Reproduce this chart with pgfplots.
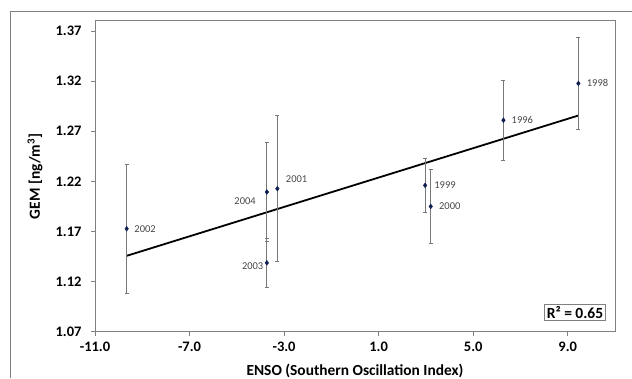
\documentclass[border=0pt]{standalone}
\usepackage{pgfplots}
\pgfplotsset{compat=1.18}
\usepackage{fontspec}
\setmainfont{Carlito}
\definecolor{framegray}{RGB}{128,128,128}
\definecolor{errgray}{RGB}{120,120,120}
\definecolor{navy}{RGB}{15,30,80}
\definecolor{labgray}{RGB}{70,70,70}
\begin{document}
\begin{tikzpicture}[x=1pt,y=1pt]
\useasboundingbox (0,0) rectangle (632,378);
\draw[framegray, line width=0.9pt] (10.5,0) -- (10.5,367) -- (632,367);
\begin{axis}[
  at={(95pt,46.3pt)}, anchor=south west,
  scale only axis, width=520pt, height=310.7pt,
  xmin=-11, xmax=11, ymin=1.07, ymax=1.38,
  xtick={-11,-7,-3,1,5,9},
  xticklabels={-11.0,-7.0,-3.0,1.0,5.0,9.0},
  ytick={1.07,1.12,1.17,1.22,1.27,1.32,1.37},
  yticklabels={1.07,1.12,1.17,1.22,1.27,1.32,1.37},
  tick align=outside, tick pos=left,
  major tick length=4pt,
  tick style={framegray, line width=0.8pt},
  axis line style={framegray, line width=1pt},
  ticklabel style={font=\fontsize{14.5}{16}\selectfont\bfseries},
  xticklabel style={yshift=-3pt},
  yticklabel style={xshift=-6pt},
  xlabel={ENSO (Southern Oscillation Index)},
  ylabel={GEM [ng/m\textsuperscript{3}]},
  label style={font=\fontsize{15.4}{17}\selectfont\bfseries},
  xlabel style={at={(axis description cs:0.5,-0.125)}, anchor=center},
  ylabel style={at={(axis description cs:-0.1154,0.5)}, anchor=center, rotate=0},
  clip=false,
]
\addplot[black, line width=1.8pt] coordinates {(-9.66,1.1457) (9.45,1.2857)};
\addplot[only marks, mark=diamond*, mark size=2.4pt, navy,
  error bars/.cd, y dir=both, y explicit,
  error bar style={errgray, line width=0.8pt},
  error mark options={errgray, line width=0.8pt, mark size=2pt, rotate=90}]
  table[x=x, y=y, y error=e] {
  x      y      e
  6.28   1.281  0.040
  9.45   1.3177 0.0457
  2.965  1.216  0.027
  3.205  1.195  0.037
  -3.285 1.2127 0.073
  -9.66  1.1727 0.0645
  -3.73  1.1387 0.0243
  -3.73  1.2094 0.0497
};
\begin{scope}[every node/.style={font=\fontsize{10.5}{12}\selectfont, text=labgray, inner sep=0pt}]
\node at (axis cs:-8.88,1.1727) {2002};
\node at (axis cs:-4.65,1.2007) {2004};
\node at (axis cs:-4.33,1.1357) {2003};
\node at (axis cs:-2.47,1.2227) {2001};
\node at (axis cs:3.81,1.216) {1999};
\node at (axis cs:4.01,1.195) {2000};
\node at (axis cs:7.08,1.281) {1996};
\node at (axis cs:10.26,1.3177) {1998};
\end{scope}
\node[draw=framegray, line width=1pt, fill=white, anchor=south east, inner sep=2pt,
  font=\fontsize{15.5}{17}\selectfont\bfseries]
  at ([xshift=-9.3pt, yshift=10.7pt]rel axis cs:1,0) {R² = 0.65};
\end{axis}
\end{tikzpicture}
\end{document}
